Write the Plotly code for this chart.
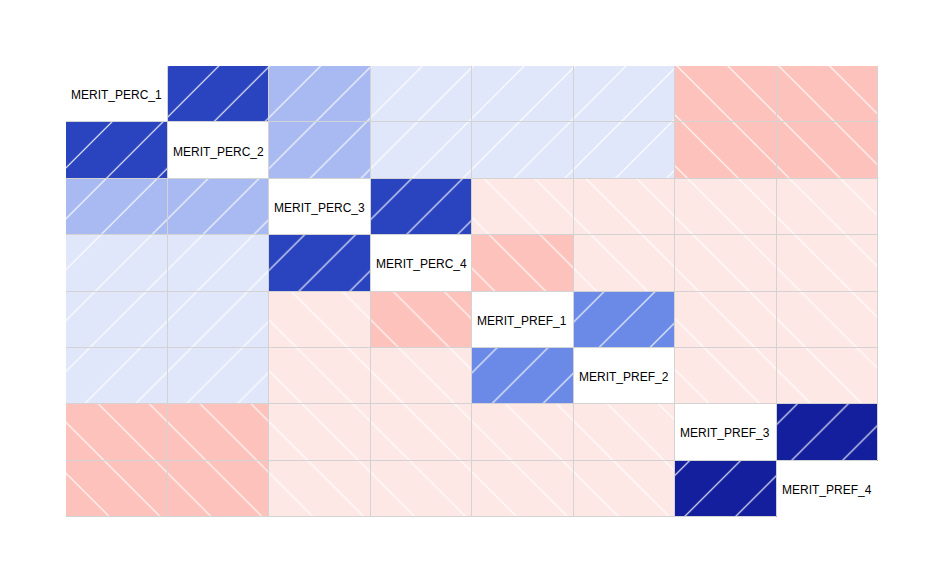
import plotly.graph_objects as go

variables = ["MERIT_PERC_1", "MERIT_PERC_2", "MERIT_PERC_3", "MERIT_PERC_4",
             "MERIT_PREF_1", "MERIT_PREF_2", "MERIT_PREF_3", "MERIT_PREF_4"]

# estimated correlation matrix (read from shading)
corr = [
    [1.00, 0.68, 0.23, 0.08, 0.08, 0.08, -0.24, -0.24],
    [0.68, 1.00, 0.23, 0.08, 0.08, 0.08, -0.24, -0.24],
    [0.23, 0.23, 1.00, 0.68, -0.09, -0.09, -0.09, -0.09],
    [0.08, 0.08, 0.68, 1.00, -0.24, -0.09, -0.09, -0.09],
    [0.08, 0.08, -0.09, -0.24, 1.00, 0.39, -0.09, -0.09],
    [0.08, 0.08, -0.09, -0.09, 0.39, 1.00, -0.09, -0.09],
    [-0.24, -0.24, -0.09, -0.09, -0.09, -0.09, 1.00, 0.85],
    [-0.24, -0.24, -0.09, -0.09, -0.09, -0.09, 0.85, 1.00],
]

palette = [(255, 0, 0), (250, 128, 114), (255, 255, 255), (65, 105, 225), (0, 0, 128)]


def shade(r):
    t = (r + 1) / 2 * (len(palette) - 1)
    i = min(int(t), len(palette) - 2)
    f = t - i
    a, b = palette[i], palette[i + 1]
    c = [round(a[k] + (b[k] - a[k]) * f) for k in range(3)]
    return "rgb(%d,%d,%d)" % tuple(c)


n = len(variables)
xs, bases, colors, shapes = [], [], [], []
for i in range(n):
    for j in range(n):
        if i == j:
            continue
        r = corr[i][j]
        xs.append(j)
        bases.append(i)
        colors.append(shade(r))
        shapes.append("/" if r > 0 else "\\")

fig = go.Figure()
# solid shaded cells
fig.add_trace(go.Bar(
    x=xs, y=[1] * len(xs), base=bases, width=1,
    marker=dict(color=colors, line=dict(width=0)),
    hoverinfo="skip", showlegend=False,
))
# white hatching + grey cell borders
fig.add_trace(go.Bar(
    x=xs, y=[1] * len(xs), base=bases, width=1,
    marker=dict(
        color="#ffffff",
        line=dict(color="#d3d3d3", width=1),
        pattern=dict(shape=shapes, fillmode="replace", bgcolor="rgba(0,0,0,0)",
                     size=36, solidity=0.03),
    ),
    hoverinfo="skip", showlegend=False,
))

for i, name in enumerate(variables):
    fig.add_annotation(x=i - 0.5, y=i + 0.5, text=name, showarrow=False,
                       xanchor="left", yanchor="middle", xshift=3, yshift=-1,
                       font=dict(family="Liberation Sans, Arial", size=12, color="#000"))

fig.update_layout(
    width=944, height=584,
    margin=dict(l=66, r=66, t=66, b=67),
    paper_bgcolor="white", plot_bgcolor="white",
    barmode="overlay", bargap=0,
    xaxis=dict(range=[-0.5, n - 0.5], visible=False, fixedrange=True),
    yaxis=dict(range=[n, 0], visible=False, fixedrange=True),
)

fig.write_html("out.html")
